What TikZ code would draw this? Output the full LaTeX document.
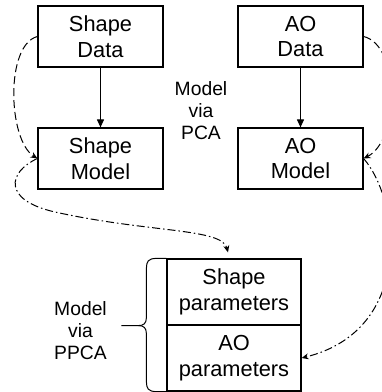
\documentclass[tikz,border=0pt]{standalone}
\usepackage{fontspec}
\setmainfont{Liberation Sans}
\usetikzlibrary{arrows.meta,calc}
\begin{document}
\begin{tikzpicture}[x=1pt,y=-1pt,
  box/.style={draw,line width=1.2pt,minimum width=125pt,minimum height=61pt,inner sep=0pt,align=center,font=\fontsize{21.8}{25.5}\selectfont},
  pbox/.style={box,minimum width=134pt,minimum height=66pt},
  lbl/.style={align=center,inner sep=0pt,font=\fontsize{19.3}{22}\selectfont},
  solidarrow/.style={line width=1pt,-{Triangle[length=8pt,width=7pt]}},
  dasharrow/.style={line width=1pt,dash pattern=on 8pt off 4pt,-{Stealth[length=7pt,width=6pt]}},
  dotarrow/.style={line width=1pt,dash pattern=on 8pt off 3pt on 1.5pt off 3pt,-{Stealth[length=7pt,width=6pt]}},
  bracestyle/.style={line width=1pt}]
\useasboundingbox (0,0) rectangle (382,392);
% boxes
\node[box] (sd) at (100.5,36.5) {Shape\\Data};
\node[box] (ad) at (300.5,36.5) {AO\\Data};
\node[box] (sm) at (100.5,158.5) {Shape\\Model};
\node[box] (am) at (300.5,158.5) {AO\\Model};
\node[pbox] (sp) at (234,292) {Shape\\parameters};
\node[pbox] (ap) at (234,358) {AO\\parameters};
% labels
\node[lbl] (pca) at (201,111) {Model\\via\\PCA};
\node[lbl] (ppca) at (80.5,330.7) {Model\\via\\PPCA};
% solid arrows
\draw[solidarrow] (sd.south) -- (sm.north);
\draw[solidarrow] (ad.south) -- (am.north);
% dashed arrows
\draw[dasharrow] (sd.west) .. controls (5,45) and (8,140) .. (sm.west);
\draw[dasharrow] (ad.east) .. controls (400,45) and (400,140) .. (am.east);
% dash-dot arrows
\coordinate (spin) at ($(sp.north)+(-6,-6)$);
\coordinate (lmid) at (55,212);
\draw[dotarrow] (sm.west) .. controls (8,172) and (2,200) .. (lmid)
  .. controls (150,233) and (222,228) .. (spin);
\draw[dotarrow] (am.east) .. controls (400,200) and (415,330) .. (ap.east);
% brace
\coordinate (L) at (sp.north west);
\coordinate (M) at (sp.south west);
\coordinate (B) at (ap.south west);
\draw[bracestyle] (L) -- ($(L)+(-10,0)$) .. controls ($(L)+(-18,0)$) and ($(L)+(-20,3)$) .. ($(L)+(-20,10)$)
  -- ($(M)+(-20,-8)$) .. controls ($(M)+(-20,-2)$) and ($(M)+(-23,0)$) .. ($(M)+(-28,0)$) -- ($(M)+(-45,0)$);
\draw[bracestyle] ($(M)+(-28,0)$) .. controls ($(M)+(-23,0)$) and ($(M)+(-20,2)$) .. ($(M)+(-20,8)$)
  -- ($(B)+(-20,-10)$) .. controls ($(B)+(-20,-3)$) and ($(B)+(-18,0)$) .. ($(B)+(-10,0)$) -- (B);
\end{tikzpicture}
\end{document}
